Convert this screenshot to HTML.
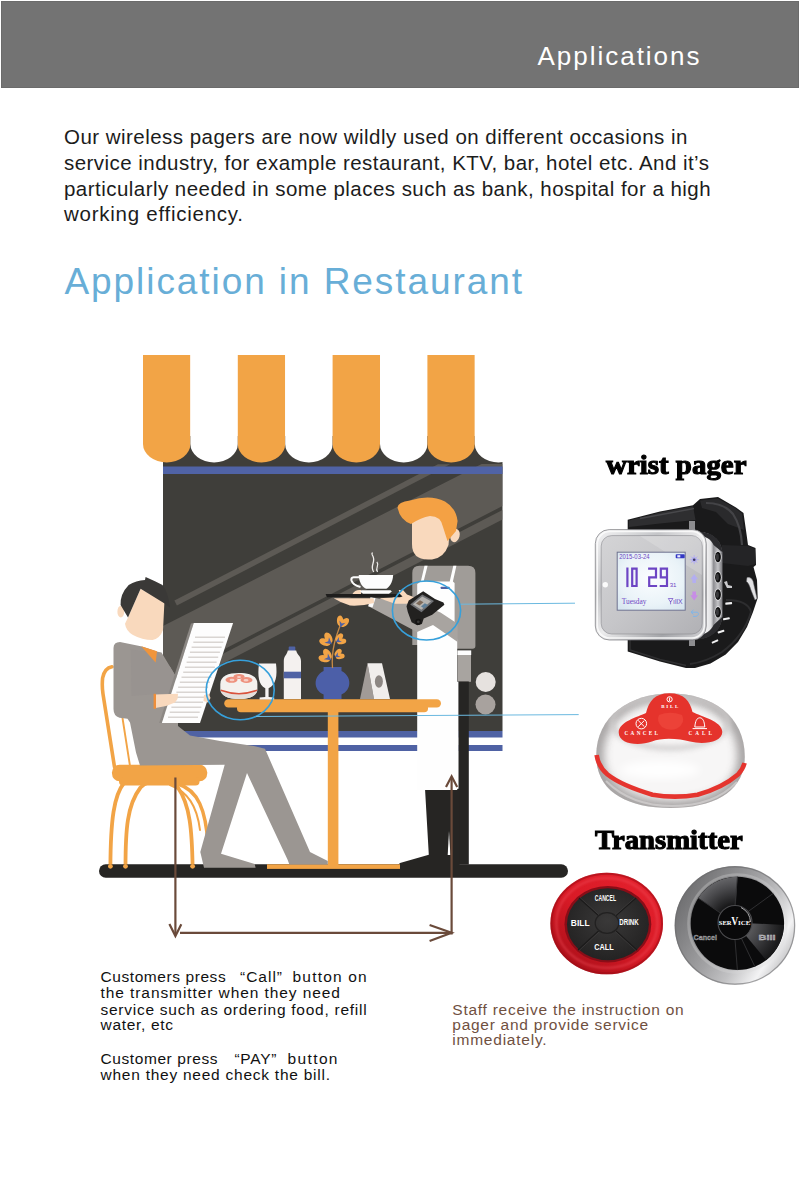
<!DOCTYPE html>
<html><head><meta charset="utf-8">
<style>
html,body{margin:0;padding:0;background:#fff;}
body{width:800px;height:1182px;position:relative;overflow:hidden;font-family:"Liberation Sans",sans-serif;}
.hdr{position:absolute;left:1px;top:1px;width:798px;height:87.4px;background:#737373;box-sizing:border-box;border:1px solid #6b6b6b;}
.t{position:absolute;white-space:nowrap;line-height:1;}
svg#art{position:absolute;left:0;top:0;}
</style></head><body>
<div class="hdr"></div>
<svg id="art" width="800" height="1182" viewBox="0 0 800 1182">
<defs><clipPath id="win"><rect x="163" y="436" width="339.5" height="295"/></clipPath>

<linearGradient id="gCase" x1="0" y1="0" x2="1" y2="1"><stop offset="0" stop-color="#f6f6f7"/><stop offset="0.3" stop-color="#c4c5c8"/><stop offset="0.5" stop-color="#ececed"/><stop offset="0.78" stop-color="#a3a4a8"/><stop offset="1" stop-color="#d5d5d8"/></linearGradient>
<linearGradient id="gFace" x1="0" y1="0" x2="1" y2="1"><stop offset="0" stop-color="#d4d4d6"/><stop offset="0.5" stop-color="#c6c6c9"/><stop offset="1" stop-color="#b1b1b5"/></linearGradient>
<linearGradient id="gSide" x1="0" y1="0" x2="1" y2="0"><stop offset="0" stop-color="#2a2a2d"/><stop offset="0.3" stop-color="#5a5a5f"/><stop offset="0.4" stop-color="#f6f6f7"/><stop offset="0.6" stop-color="#e0e0e2"/><stop offset="0.7" stop-color="#8a8a8e"/><stop offset="1" stop-color="#6a6a6e"/></linearGradient>
<radialGradient id="gLcd" cx="0.5" cy="0.45" r="0.75"><stop offset="0" stop-color="#fbfdff"/><stop offset="0.6" stop-color="#eaf3f8"/><stop offset="1" stop-color="#d3e3ee"/></radialGradient>
<radialGradient id="gDome" cx="0.45" cy="0.35" r="0.7"><stop offset="0" stop-color="#ffffff"/><stop offset="0.6" stop-color="#f3f2f2"/><stop offset="0.85" stop-color="#dddbdb"/><stop offset="1" stop-color="#c9c6c6"/></radialGradient>
<radialGradient id="gRed" cx="0.5" cy="0.5" r="0.5"><stop offset="0.68" stop-color="#9a0f1c"/><stop offset="0.76" stop-color="#e0202f"/><stop offset="0.88" stop-color="#e3283a"/><stop offset="0.95" stop-color="#c81626"/><stop offset="1" stop-color="#a50f1c"/></radialGradient>
<radialGradient id="gBlk" cx="0.5" cy="0.45" r="0.55"><stop offset="0" stop-color="#3a3939"/><stop offset="1" stop-color="#242323"/></radialGradient>
<linearGradient id="gSil" x1="0" y1="0.2" x2="1" y2="0.85"><stop offset="0" stop-color="#8b8b8d"/><stop offset="0.35" stop-color="#a9a9ab"/><stop offset="0.6" stop-color="#cfcfd1"/><stop offset="0.85" stop-color="#f2f2f3"/><stop offset="1" stop-color="#c8c8ca"/></linearGradient>
<linearGradient id="gGloss" x1="0" y1="0" x2="0" y2="1"><stop offset="0" stop-color="#4a4a4c"/><stop offset="1" stop-color="#0c0c0d"/></linearGradient>
<linearGradient id="gBase" x1="0" y1="0" x2="1" y2="0"><stop offset="0" stop-color="#c9c6c6"/><stop offset="0.3" stop-color="#e9e7e7"/><stop offset="0.55" stop-color="#f8f7f7"/><stop offset="0.85" stop-color="#e2e0e0"/><stop offset="1" stop-color="#cfcccc"/></linearGradient>
<linearGradient id="gDomeL" x1="0" y1="0" x2="1" y2="0"><stop offset="0" stop-color="#bdbaba" stop-opacity="0.9"/><stop offset="1" stop-color="#e8e6e6" stop-opacity="0"/></linearGradient>
<linearGradient id="gDomeR" x1="1" y1="0" x2="0" y2="0"><stop offset="0" stop-color="#c9c6c6" stop-opacity="0.8"/><stop offset="1" stop-color="#e8e6e6" stop-opacity="0"/></linearGradient>
<clipPath id="cDome"><path d="M596.2,756 C596,716 630,693.5 670.5,693.5 C712,693.5 745,716 744.8,757 C744.5,791 715,808 670.5,808 C626,808 596.5,791 596.2,756Z"/></clipPath>
<filter id="fB5" x="-20%" y="-20%" width="140%" height="140%"><feGaussianBlur stdDeviation="4.5"/></filter>
<filter id="fB3" x="-20%" y="-20%" width="140%" height="140%"><feGaussianBlur stdDeviation="2.5"/></filter>
<linearGradient id="gRedL" x1="0.85" y1="0.1" x2="0.15" y2="0.95"><stop offset="0" stop-color="#e3202c"/><stop offset="0.5" stop-color="#d81a26"/><stop offset="1" stop-color="#a90f19"/></linearGradient>
<filter id="fB1" x="-10%" y="-10%" width="120%" height="120%"><feGaussianBlur stdDeviation="1.2"/></filter>
<clipPath id="cTx3"><circle cx="737.4" cy="923.4" r="46.7"/></clipPath>
<linearGradient id="gSil2" x1="0.05" y1="0.25" x2="0.95" y2="0.8"><stop offset="0" stop-color="#6f6f71"/><stop offset="0.2" stop-color="#858587"/><stop offset="0.45" stop-color="#a2a2a4"/><stop offset="0.65" stop-color="#c2c2c4"/><stop offset="0.85" stop-color="#f3f3f4"/><stop offset="1" stop-color="#bdbdbf"/></linearGradient>
<radialGradient id="gGloss2" gradientUnits="userSpaceOnUse" cx="735" cy="922.5" r="47"><stop offset="0.35" stop-color="#141415"/><stop offset="0.75" stop-color="#4a4a4d"/><stop offset="1" stop-color="#6a6a6d"/></radialGradient>
<radialGradient id="gGloss3" gradientUnits="userSpaceOnUse" cx="735" cy="922.5" r="47"><stop offset="0.35" stop-color="#5a5a5d"/><stop offset="0.8" stop-color="#2c2c2e"/><stop offset="1" stop-color="#1a1a1b"/></radialGradient>
<linearGradient id="gPanel" x1="0" y1="0" x2="1" y2="0"><stop offset="0" stop-color="#8e8e92"/><stop offset="0.5" stop-color="#c4c4c7"/><stop offset="1" stop-color="#77777b"/></linearGradient>
</defs>
<rect x="163" y="436" width="339.5" height="295" fill="#3f3e3a"/>
<g clip-path="url(#win)" fill="#5d5a55">
<polygon points="174.4,600.6 176.9,605.6 450,464.2 438,464.2"/>
<polygon points="163,626 481.6,464 502.5,464 502.5,506 227.5,647.5 163,680.7"/>
<polygon points="502.5,510 502.5,519.5 163,694.2 163,684.7"/></g>
<rect x="163" y="466.5" width="339.5" height="7.5" fill="#5063a6"/>
<rect x="163" y="731" width="339.5" height="6.5" fill="#4f62a4"/>
<rect x="163" y="745" width="339.5" height="6" fill="#4f62a4"/>
<path d="M143.0,355h47.4v89a23.7,18.5 0 0 1 -47.4,0z" fill="#f2a446"/>
<path d="M190.4,355h47.4v89a23.7,18.5 0 0 1 -47.4,0z" fill="#fff"/>
<path d="M237.8,355h47.4v89a23.7,18.5 0 0 1 -47.4,0z" fill="#f2a446"/>
<path d="M285.2,355h47.4v89a23.7,18.5 0 0 1 -47.4,0z" fill="#fff"/>
<path d="M332.6,355h47.4v89a23.7,18.5 0 0 1 -47.4,0z" fill="#f2a446"/>
<path d="M380.0,355h47.4v89a23.7,18.5 0 0 1 -47.4,0z" fill="#fff"/>
<path d="M427.4,355h47.4v89a23.7,18.5 0 0 1 -47.4,0z" fill="#f2a446"/>
<path d="M474.8,355h47.4v89a23.7,18.5 0 0 1 -47.4,0z" fill="#fff"/>
<circle cx="485.7" cy="682" r="10" fill="#e6e2df"/><circle cx="485.5" cy="704.5" r="10" fill="#a8a29e"/>
<g fill="none" stroke="#f2a446" stroke-linecap="round">
<path d="M112,666.7 Q104.5,668 102.6,678 Q101.8,686 103,694 L114.5,767" stroke-width="3.6"/>
<path d="M122.5,718 L130,766" stroke-width="1.9"/>
<path d="M110.4,867 C110.6,820 114,795 124,783" stroke-width="3.8"/>
<path d="M125.5,867 C125.5,830 127,805 140.5,787.5 C150,778 168,778 177.9,787.5 C190,805 192,830 192.6,867" stroke-width="3.8"/>
<path d="M178,784 C198,790 206,810 208,845" stroke-width="3.5"/>
<path d="M170,785 C188,792 197,806 200,830" stroke-width="2"/>
</g>
<rect x="112" y="764.7" width="95.2" height="16.5" rx="7.5" fill="#f2a446"/><rect x="119" y="777" width="80.5" height="8.5" rx="4" fill="#f2a446"/>
<rect x="99" y="864.3" width="469" height="13.5" rx="6.75" fill="#262523"/>
<path d="M412.3,645 L412.3,573 Q412.3,565.8 419.5,565.8 L468,565.8 Q475.4,565.8 475.4,573 L475.4,646 Q475.4,648.8 472.6,648.8 L455.8,648.8 L455.8,645 Z" fill="#a09c98"/>
<rect x="457.6" y="654.5" width="13.4" height="27.3" fill="#a8a4a0"/><rect x="457.4" y="650.4" width="13.8" height="4.6" fill="#fdfdfd"/>
<rect x="458.2" y="681.5" width="10.6" height="183" fill="#262523"/>
<path d="M425,788.4 L459.5,788.4 L459.5,865 L398,865 L400,863 L428.8,854.7Z" fill="#262523"/>
<path d="M417.2,790 L417.2,584 L420.8,581.4 L424.5,565.8 L427.6,565.8 L423.6,581.4 L449.7,581.4 L453.3,565.8 L456.4,565.8 L452.9,581.4 L454.6,583 L454.6,625 L457.2,640 L457.2,790 Z" fill="#fefefe"/>
<polygon points="449,831 447.7,855 450.4,855" fill="#fefefe"/>
<rect x="456.5" y="681.8" width="1.9" height="107" fill="#fefefe"/>
<rect x="440.5" y="586.7" width="9.2" height="2.2" rx="0.8" fill="#4f62a4"/>
<polygon points="374,597.8 425,606 440.5,612.6 457.6,623.7 457.6,642 449,636 433,625 417,632 368.4,606.3" fill="#a8a4a0"/>
<polygon points="368.2,606.3 370.5,597 375.5,598.2 372.5,607.5" fill="#fdfdfd"/>
<ellipse cx="455" cy="535.5" rx="4.6" ry="6.8" transform="rotate(15 455 535.5)" fill="#f9d9bd"/>
<path d="M412,514 L412,544 Q412,559.5 428,559.5 L432,559.5 Q444,558 448.5,545 L451,514 Z" fill="#f9d9bd"/>
<path d="M397.5,507.5 Q398,502 410,500.5 Q430,494 445,501.5 Q456,508 457.6,521 L456,531 L447.5,541 L443,527 Q441,516 430,516 Q421,517.5 411,524 Q400,520 397.5,507.5Z" fill="#f4a144"/>
<rect x="224.2" y="699.2" width="216.8" height="8.4" rx="4.2" fill="#f2a446"/><rect x="237" y="704" width="191" height="8.3" rx="3.8" fill="#f2a446"/>
<rect x="327.8" y="708" width="10.6" height="158" fill="#f2a446"/>
<rect x="267" y="864.3" width="133" height="4.6" fill="#f2a446"/>
<g fill="#f2a446"><circle cx="110.4" cy="866.3" r="2.4"/><circle cx="125.5" cy="866.3" r="2.4"/><circle cx="192.6" cy="866.3" r="2.4"/></g>
<path d="M259,663.5 L276,663.5 C277.5,676 276,685 268.6,688.3 L268.6,697 L274.2,697.6 L274.2,699.4 L259.6,699.4 L259.6,697.6 L265.3,697 L265.3,688.3 C258.5,685 257.5,676 259,663.5Z" fill="#f6f4f3"/>
<rect x="288.7" y="646.4" width="6.6" height="5" rx="1" fill="#4f62a4"/>
<path d="M287.8,650.6 L296.2,650.6 C297,655 301,656 301,661 L301,699 L283.8,699 L283.8,661 C283.8,656 287,655 287.8,650.6Z" fill="#f4f1ef"/>
<rect x="283.8" y="671.7" width="17.2" height="6.6" fill="#4f62a4"/>
<path d="M323.6,667 L341.5,667 L341.5,671 C352,676 352,690 341.5,694.5 L341.5,699 L323.6,699 L323.6,694.5 C313,690 313,676 323.6,671Z" fill="#4c5fa8"/>
<path d="M332.5,668 C331,650 336,636 341.5,622" fill="none" stroke="#c98a45" stroke-width="1.3"/>
<g transform="translate(340.5,627) rotate(20) scale(0.95)"><ellipse cx="-2.6" cy="-6" rx="3.4" ry="5.6" transform="rotate(-22 -2.6 -6)" fill="#f2a446"/><ellipse cx="2.6" cy="-6" rx="3.4" ry="5.6" transform="rotate(22 2.6 -6)" fill="#f2a446"/><path d="M0,0.5 L-3.4,-6 L0,-4 L3.4,-6Z" fill="#4f62a4"/></g>
<g transform="translate(331.5,644) rotate(-50) scale(1.05)"><ellipse cx="-2.6" cy="-6" rx="3.4" ry="5.6" transform="rotate(-22 -2.6 -6)" fill="#f2a446"/><ellipse cx="2.6" cy="-6" rx="3.4" ry="5.6" transform="rotate(22 2.6 -6)" fill="#f2a446"/><path d="M0,0.5 L-3.4,-6 L0,-4 L3.4,-6Z" fill="#4f62a4"/></g>
<g transform="translate(336,642) rotate(60) scale(0.85)"><ellipse cx="-2.6" cy="-6" rx="3.4" ry="5.6" transform="rotate(-22 -2.6 -6)" fill="#f2a446"/><ellipse cx="2.6" cy="-6" rx="3.4" ry="5.6" transform="rotate(22 2.6 -6)" fill="#f2a446"/><path d="M0,0.5 L-3.4,-6 L0,-4 L3.4,-6Z" fill="#4f62a4"/></g>
<g transform="translate(331,660) rotate(-55) scale(1.05)"><ellipse cx="-2.6" cy="-6" rx="3.4" ry="5.6" transform="rotate(-22 -2.6 -6)" fill="#f2a446"/><ellipse cx="2.6" cy="-6" rx="3.4" ry="5.6" transform="rotate(22 2.6 -6)" fill="#f2a446"/><path d="M0,0.5 L-3.4,-6 L0,-4 L3.4,-6Z" fill="#4f62a4"/></g>
<g transform="translate(335,657) rotate(60) scale(0.8)"><ellipse cx="-2.6" cy="-6" rx="3.4" ry="5.6" transform="rotate(-22 -2.6 -6)" fill="#f2a446"/><ellipse cx="2.6" cy="-6" rx="3.4" ry="5.6" transform="rotate(22 2.6 -6)" fill="#f2a446"/><path d="M0,0.5 L-3.4,-6 L0,-4 L3.4,-6Z" fill="#4f62a4"/></g>
<polygon points="367.5,663.3 360,699 374,699" fill="#a19b97"/><polygon points="367.5,663.3 382,663.3 390,699 374,699" fill="#f1eeec"/><ellipse cx="378.9" cy="681.5" rx="4" ry="6.2" fill="#8d8783"/>
<g fill="#9b9692">
<path d="M113.5,648 Q113.5,642 120,642 L142,646.5 L157.75,651.75 L161.5,652.5 L170.5,667.5 L175,675 L178,700 L178,726 L190,735.6 L220,741 L253.75,746 L265,748.75 L310,851.9 L327.8,861 L327.8,864.5 L289.4,864.5 L287.5,859.4 L247,773 L221,853.75 L254.7,864 L255.6,867.8 L204,867.8 L200.3,851.9 L224.7,764.7 L140,765.5 L136,752.5 L130,722.5 L127.5,718.7 L119.5,717.7 Q113.5,716 113.5,709 Z"/>
<path d="M130.75,649.5 L157.75,652.5 L170.5,667.5 L175,675 L172,693 L131.5,696Z" fill="#989390"/>
</g>
<ellipse cx="120.8" cy="611.7" rx="3.4" ry="5.9" fill="#f9d9bd"/>
<path d="M140.6,588.7 L128,617.5 L125,623.7 Q126,631 133,635 Q142,640 152.5,640 Q160,638.5 163,630 L164.4,602.5 Z" fill="#f9d9bd"/>
<path d="M120.6,605 Q120,594 128.7,585 Q136,580.3 145,580 L145.6,576.9 L155,581.2 L162.5,585 Q168,592 170,607.5 L165,603.7 L140.6,588.7 L128,617.5 Z" fill="#3a3937"/>
<polygon points="141.2,646.2 157,651.2 155.6,662.5" fill="#f0953c"/>
<polygon points="191,623.5 193.75,622.9 161.9,723.1 159.2,723.1" fill="#8c8884"/>
<polygon points="193.75,622.9 233.1,622.9 200,723.1 161.9,723.1" fill="#fdfdfd"/>
<rect x="195.0" y="636.5" width="30" height="1.5" fill="#d9d5d2"/>
<rect x="193.3" y="641.5" width="30" height="1.5" fill="#d9d5d2"/>
<rect x="191.6" y="646.5" width="30" height="1.5" fill="#d9d5d2"/>
<rect x="189.9" y="651.5" width="30" height="1.5" fill="#d9d5d2"/>
<rect x="188.2" y="656.5" width="30" height="1.5" fill="#d9d5d2"/>
<rect x="186.6" y="661.5" width="30" height="1.5" fill="#d9d5d2"/>
<rect x="184.9" y="666.5" width="30" height="1.5" fill="#d9d5d2"/>
<rect x="183.2" y="671.5" width="30" height="1.5" fill="#d9d5d2"/>
<rect x="181.5" y="676.5" width="30" height="1.5" fill="#d9d5d2"/>
<rect x="179.8" y="681.5" width="30" height="1.5" fill="#d9d5d2"/>
<rect x="178.1" y="686.5" width="30" height="1.5" fill="#d9d5d2"/>
<rect x="176.4" y="691.5" width="30" height="1.5" fill="#d9d5d2"/>
<rect x="174.8" y="696.5" width="30" height="1.5" fill="#d9d5d2"/>
<rect x="173.1" y="701.5" width="30" height="1.5" fill="#d9d5d2"/>
<rect x="171.4" y="706.5" width="30" height="1.5" fill="#d9d5d2"/>
<rect x="169.7" y="711.5" width="30" height="1.5" fill="#d9d5d2"/>
<rect x="168.0" y="716.5" width="30" height="1.5" fill="#d9d5d2"/>
<path d="M155.5,694.5 L178,693.8 L177.5,699 L175,702.5 L166,706 L155.5,708Z" fill="#f9d9bd"/><rect x="153.6" y="693.8" width="2.4" height="15" fill="#ee8e3a"/>
<path d="M204,695 L209,694 L210.5,698 L208,702.5 L203.5,701Z" fill="#f9d9bd"/>
<path d="M333.7,598.3 L373.7,598.3 L374,603 Q362,606.3 350,605.6 Q341,603 333.7,598.3Z" fill="#f9d9bd"/>
<path d="M352.5,594 Q355,589.2 361,590 L361,594Z" fill="#f9d9bd"/>
<path d="M379.4,598.3 L395,603.8 L407.5,603.8 L415,597.5 L407,594.5 L403,590 L398.8,590 L399.5,594.5 L392,597.5Z" fill="#f9d9bd"/>
<path d="M325.6,594 L400,594 L402.5,596.5 L400,597.2 L327,597.2 Z" fill="#1f1e1d"/>
<path d="M358.75,575 L393.1,575 C393,583 388.5,587.5 386.25,588.75 L366.25,588.75 C363,587.5 358.8,583 358.75,575Z" fill="#fdfdfd"/>
<path d="M359.5,577.2 L353.6,577.2 Q350.8,577.4 351.5,580.5 Q353,585.3 360.5,587" fill="none" stroke="#fdfdfd" stroke-width="2.1"/>
<polygon points="361.5,590.2 390.5,590.2 391.9,591.4 389,593.8 363,593.8 360,591.4" fill="#fdfdfd"/>
<path d="M373.7,572 C369,565 377,562 372.3,555 Q371.5,553.5 372.5,552.5" fill="none" stroke="#f0eeec" stroke-width="1.3"/>
<path d="M377.5,572 C374.5,567.5 380,566 376.9,561.9" fill="none" stroke="#f0eeec" stroke-width="1.2"/>
<polygon points="406.5,606.2 408.7,600.6 423.2,591.2 435,599.1 443.4,602.5 444.4,604.8 432.2,614.7 423.7,618.4 421.9,624 417.2,625.2 411.6,622.2 407.8,611.9" fill="#222120"/>
<polygon points="410.2,604.4 422.2,594.6 434,601 421.5,612.2" fill="#6f7175"/><polygon points="412.8,604.3 422.3,596.6 431,601.2 421.4,609.8" fill="#b5b3b0"/>
<polygon points="416,603.5 420,600.3 423.5,602.2 419.5,605.6" fill="#7d6a5a"/><polygon points="421,606.5 424.8,603.3 428,605 424,608.3" fill="#5d7f9a"/>
<circle cx="418.3" cy="621.8" r="3.1" fill="#151413"/><circle cx="418.3" cy="621.8" r="1.4" fill="#3a3938"/>
<path d="M220.3,684 C220.3,676 228,673 239,673 C250,673 257.4,676 257.4,684 L257.4,689 C257.4,696 249,699 239,699 C229,699 220.3,696 220.3,689Z" fill="#f4f1ee"/>
<path d="M220.8,690.5 Q239,697.5 257,690.5 C256,696.5 249,699 239,699 C229,699 222,696.5 220.8,690.5Z" fill="#e4dfdb"/>
<path d="M220.8,690.3 Q239,697 257,690.3" fill="none" stroke="#d9533d" stroke-width="1.5"/>
<g fill="#ee907c"><ellipse cx="231.5" cy="679.8" rx="6" ry="3"/><ellipse cx="246.5" cy="680" rx="6" ry="3"/><ellipse cx="239" cy="676.6" rx="5.5" ry="2.5"/></g><g fill="#f7cfc6"><ellipse cx="232" cy="680" rx="2.5" ry="1.2"/><ellipse cx="246" cy="680.2" rx="2.5" ry="1.2"/><ellipse cx="239" cy="677" rx="2" ry="1"/></g>
<g fill="none" stroke="#36a0db" stroke-width="1.6"><ellipse cx="426.5" cy="610.5" rx="34.1" ry="29.5"/><ellipse cx="240.2" cy="690" rx="34" ry="29.8"/></g>
<g fill="none" stroke="#6bb9e0" stroke-width="1"><path d="M460.7,604.2 L575,603.2"/><path d="M256,716.5 L578.7,714.6"/></g>
<g fill="none" stroke="#6a4a3a" stroke-width="2.2" stroke-linejoin="miter"><path d="M175.4,777.5 V935"/><path d="M169.4,924 L175.4,936 L181.3,924.3"/><path d="M180,932.8 H451"/><path d="M429.6,925 L451.6,932.8 L429.6,941"/><path d="M451.6,934.5 V777"/><path d="M446,787 L451.6,776.3 L457.2,787"/></g>
<g id="pager">
<path d="M627.7,529 L627.7,519.8 L660,511.6 L693,505.3 L700,499 L718,497 L736,507.5 L743.5,513 L746.5,534 L748,545 L755.5,548 L756,565 L753.5,567 L757,580 L757.7,598 L753,612 L747,627 L738,642 L725.7,654.5 L710.5,663.6 L695,668 L686,668 L660,661.5 L627.7,651.5 L627.7,636 Z" fill="#1a1a1b"/>
<path d="M629,520.5 L660,512.5 L693,506.3 L695.5,520 L660,523.5 L629,527Z" fill="#2e2e30"/>
<path d="M640,518.5 L694,508.5" fill="none" stroke="#48484b" stroke-width="1.4"/>
<path d="M700,500.5 L718,498.5 L735,508 L742,513.5 L744,530 L728,524 L716,512 L702,508Z" fill="#2a2a2c"/>
<path d="M706,503 Q724,503 733,514 Q741,526 742,545" fill="none" stroke="#444447" stroke-width="2.2"/>
<path d="M722,545 L748,546 L755,549 L755.5,564 L748,566 L722,563Z" fill="#242426"/>
<path d="M726,600 Q748,600 751,612 Q744,636 722,652 Q706,662 690,664" fill="none" stroke="#2d2d2f" stroke-width="2"/>
<path d="M630,640 L630,650 L660,659.5 L686,665.5" fill="none" stroke="#2f2f31" stroke-width="1.5"/>
<rect x="689" y="521" width="6" height="13" fill="#8d8d90"/><rect x="689" y="634" width="6" height="12" fill="#8d8d90"/>
<path d="M694,531.5 C712,531.5 721.5,540 722.3,553 L722.3,616 C721.5,629 712,638 696,639.5 Z" fill="url(#gSide)"/>
<path d="M713.6,545 L722.3,552 L722.3,617 L713.6,625Z" fill="url(#gPanel)"/><path d="M697,531.7 C712,531.3 721,539 722.3,552 L713.6,545 C711,539.5 706,536 697,535.6Z" fill="#2b2b2e"/><path d="M697,639.4 C712,639 721,630 722.3,617 L713.6,625 C711,630.5 706,634.5 697,635.4Z" fill="#2b2b2e"/>
<rect x="595.3" y="529.6" width="111" height="110.4" rx="14" fill="url(#gCase)" stroke="#77777b" stroke-width="0.7"/>
<rect x="597.3" y="531.4" width="107" height="106.6" rx="12.5" fill="none" stroke="#fbfbfb" stroke-width="1.6" opacity="0.9"/>
<rect x="601.2" y="535.6" width="101" height="98.4" rx="10.5" fill="url(#gFace)" stroke="#8a8a8e" stroke-width="0.6"/>
<path d="M640,536 L702,536 L702,575 Z" fill="#ffffff" opacity="0.18"/>
<rect x="617.2" y="552.2" width="68" height="58" fill="url(#gLcd)" stroke="#6f7390" stroke-width="1"/>
<circle cx="605.3" cy="584.7" r="2.7" fill="#fbfbfb"/>
<ellipse cx="718" cy="557" rx="3.6" ry="6.1" fill="#e4e4e6"/><ellipse cx="718" cy="557" rx="2.9" ry="5.3" fill="#101011"/><ellipse cx="717.4" cy="557" rx="1.5" ry="3.4" fill="#39393c"/>
<ellipse cx="718" cy="577.2" rx="3.6" ry="6.1" fill="#e4e4e6"/><ellipse cx="718" cy="577.2" rx="2.9" ry="5.3" fill="#101011"/><ellipse cx="717.4" cy="577.2" rx="1.5" ry="3.4" fill="#39393c"/>
<ellipse cx="718" cy="594.6" rx="3.6" ry="6.1" fill="#e4e4e6"/><ellipse cx="718" cy="594.6" rx="2.9" ry="5.3" fill="#101011"/><ellipse cx="717.4" cy="594.6" rx="1.5" ry="3.4" fill="#39393c"/>
<ellipse cx="718" cy="612.2" rx="3.6" ry="6.1" fill="#e4e4e6"/><ellipse cx="718" cy="612.2" rx="2.9" ry="5.3" fill="#101011"/><ellipse cx="717.4" cy="612.2" rx="1.5" ry="3.4" fill="#39393c"/>
<g fill="#6d45c4">
<text x="619.2" y="559.4" font-size="6.6" font-family="Liberation Sans, sans-serif" textLength="30.3" lengthAdjust="spacingAndGlyphs">2015-03-24</text>
<rect x="675.7" y="554.3" width="9" height="4" rx="0.8" fill="#3438c4"/><rect x="677.3" y="555.2" width="3" height="2.2" fill="#eef"/>
<text x="621.7" y="604.3" font-size="9" font-family="Liberation Serif, serif" textLength="24.8" lengthAdjust="spacingAndGlyphs">Tuesday</text>
<text x="673" y="604.3" font-size="7" font-family="Liberation Sans, sans-serif" textLength="9.5" lengthAdjust="spacingAndGlyphs">ıllX</text><path d="M668.3,598.5 H673 L670.6,602 Z M670.6,601 V604.3" fill="none" stroke="#6d45c4" stroke-width="0.7"/>
</g>
<g fill="none" stroke="#6d45c4" stroke-width="2.2" stroke-linecap="square">
<path d="M627.4,568.6 V586"/>
<path d="M632.2,568.6 H636.6 V586 H632.2 Z"/>
<path d="M649.2,568.6 H656 V577.3 H649.2 V586 H656"/>
<path d="M667,577.3 H660.8 V568.6 H667 V586 H660.8"/>
</g>
<text x="669.7" y="587.2" font-size="5.4" fill="#6d45c4" font-family="Liberation Sans, sans-serif" textLength="6.8" lengthAdjust="spacingAndGlyphs">31</text>
<g stroke="#b3aef0" stroke-width="1"><path d="M694.2,555.2v9M689.7,559.7h9M691,556.5l6.4,6.4M697.4,556.5l-6.4,6.4"/></g><circle cx="694.2" cy="559.7" r="2.6" fill="#b3aef0"/><circle cx="694.2" cy="559.7" r="1.3" fill="#3a3a60"/>
<path d="M694.2,574 L698,579.2 L696,579.2 L696,583 L692.4,583 L692.4,579.2 L690.4,579.2Z" fill="#b3aef0"/><path d="M694.2,600.5 L698,595.3 L696,595.3 L696,591.5 L692.4,591.5 L692.4,595.3 L690.4,595.3Z" fill="#c78de6"/>
<path d="M697.5,612.2 H691 M691,612.2 l2.4,-2.2 M691,612.2 l2.4,2.2 M697.5,612.2 q2.6,2.6 -1.5,4.2 h-3" fill="none" stroke="#7fb5ea" stroke-width="1"/>
<path d="M747,577.5 Q751,576.5 753,581 L757,598.5 L755,600 L751,590 Q749,583 746.5,581.5Z" fill="#e2e2e4" stroke="#6e6e72" stroke-width="0.5"/>
<path d="M724,582 l3,-1 l1,4 l4,1 l0,2 l-5,0Z" fill="#c9c9cc"/>
<rect x="725.3000000000001" y="602.35" width="6.8" height="2.1" rx="0.6" fill="#f1f1f2" transform="rotate(-5 728.7 603.4)"/>
<rect x="723.0" y="617.6500000000001" width="6.8" height="2.1" rx="0.6" fill="#f1f1f2" transform="rotate(-10 726.4 618.7)"/>
<rect x="717.6" y="630.5500000000001" width="6.8" height="2.1" rx="0.6" fill="#f1f1f2" transform="rotate(-18 721 631.6)"/>
<rect x="711.6" y="640.45" width="6.8" height="2.1" rx="0.6" fill="#f1f1f2" transform="rotate(-24 715 641.5)"/>
</g>
<g id="tx1">
<path d="M596.2,756 C596,716 630,693.5 670.5,693.5 C712,693.5 745,716 744.8,757 C744.5,791 715,808 670.5,808 C626,808 596.5,791 596.2,756Z" fill="#f7f6f6"/>
<g clip-path="url(#cDome)">
<path d="M596.6,755 C598,764 601,769 607.5,774.5 C617,782 630,788 652.5,794.7 Q675,798.5 697.5,794.7 C715,790 728,783 738,774.5 Q743,769 744.6,763 L750,812 L590,812Z" fill="url(#gBase)"/>
<path d="M596.2,756 C596,716 630,693.5 670.5,693.5 C712,693.5 745,716 744.8,757 C744.5,791 715,808 670.5,808 C626,808 596.5,791 596.2,756Z" fill="none" stroke="#9f9b9b" stroke-width="15" filter="url(#fB5)" opacity="0.9"/>
<ellipse cx="670" cy="722" rx="58" ry="26" fill="none" stroke="#cfcccc" stroke-width="6" filter="url(#fB3)" opacity="0.8"/>
<ellipse cx="660" cy="770" rx="40" ry="9" fill="#ffffff" filter="url(#fB5)" opacity="0.9"/>
</g>
<path d="M596.6,755 C598,764 601,769 607.5,774.5 C617,782 630,788 652.5,794.7 Q675,798.5 697.5,794.7 C715,790 728,783 738,774.5 Q743,769 744.6,763" fill="none" stroke="#e5342e" stroke-width="4.6"/>
<path d="M606,781 C625,800 650,806 672,806 C700,806 722,798 737,782" fill="none" stroke="#d6d3d3" stroke-width="2" opacity="0.7"/>
<path d="M646,713 C649,701 655,693.3 669.5,693.3 C684,693.3 690,701 692.5,712 C701,716.5 722.3,721 722.3,732 C722.3,742 704,745 690,741.5 C680,738.5 662,737 652,741.5 C638,746.5 618.7,744 618.7,732.5 C618.7,721.5 638,717 646,713Z" fill="#e5332c"/>
<path d="M659,715 Q670,710.5 682,715 Q686,723 677,728.5 Q669,731.5 662,727 Q656,721 659,715Z" fill="#ec4238"/>
<g fill="#fff" font-family="Liberation Serif, serif" font-weight="bold">
<text x="661.3" y="708.3" font-size="5" textLength="17" lengthAdjust="spacing">BILL</text><text x="624.5" y="734.8" font-size="5.2" textLength="33.5" lengthAdjust="spacing">CANCEL</text><text x="688.5" y="734.8" font-size="5.2" textLength="23.5" lengthAdjust="spacing">CALL</text></g>
<g fill="none" stroke="#fff" stroke-width="1"><circle cx="641.3" cy="723.6" r="5.3"/><path d="M638.2,720.5 l6.2,6.2 M644.4,720.5 l-6.2,6.2"/><path d="M694.8,727 C695.4,721 696.6,718 699.8,717.8 C703,718 704.2,721 704.8,727 Z"/><path d="M692.6,728.6 H707"/><circle cx="669.6" cy="699.3" r="2.6"/><path d="M669.6,697.6 v3.4"/></g>
</g>
<g id="tx2">
<ellipse cx="606.7" cy="923.5" rx="56.3" ry="50.8" fill="url(#gRedL)"/>
<ellipse cx="606.7" cy="923.5" rx="55.3" ry="49.8" fill="none" stroke="#9c0c16" stroke-width="2" opacity="0.55"/>
<ellipse cx="606.9" cy="923" rx="50.5" ry="44.8" fill="none" stroke="#f2505c" stroke-width="2.2" opacity="0.45" filter="url(#fB1)"/>
<ellipse cx="607.9" cy="924.2" rx="43.4" ry="38.3" fill="#8a0d17"/>
<ellipse cx="607.9" cy="924.2" rx="41" ry="36" fill="url(#gBlk)"/>
<g stroke="#1c1b1b" stroke-width="1.3" fill="none"><path d="M579,898 L598.5,915.5 M636,898 L616,915.5 M578,950 L598.5,931 M637,950 L616,931"/><ellipse cx="607" cy="923" rx="11.8" ry="10.4" stroke="#222121"/></g>
<g stroke="#4a4848" stroke-width="0.6" fill="none" opacity="0.8"><path d="M580,897.5 L599,914.8 M635,897.5 L615.4,915 M579,950.6 L599,932 M636,950.6 L615.4,931.6"/></g>
<g fill="#fff" font-family="Liberation Sans, sans-serif" font-weight="bold" text-anchor="middle">
<text x="605.4" y="901.1" font-size="8.6" textLength="21.3" lengthAdjust="spacingAndGlyphs">CANCEL</text>
<text x="580.2" y="925.5" font-size="9.3" textLength="18.7" lengthAdjust="spacingAndGlyphs">BILL</text>
<text x="629" y="925.2" font-size="8.8" textLength="19.5" lengthAdjust="spacingAndGlyphs">DRINK</text>
<text x="604" y="950" font-size="9" textLength="19.5" lengthAdjust="spacingAndGlyphs">CALL</text></g>
</g>
<g id="tx3">
<ellipse cx="735" cy="925.5" rx="60.4" ry="59.4" fill="url(#gSil2)"/>
<ellipse cx="735" cy="925.5" rx="59.6" ry="58.6" fill="none" stroke="#6c6c6e" stroke-width="1.2" opacity="0.6"/>
<circle cx="737.4" cy="923.4" r="48.900000000000006" fill="none" stroke="#d9d9db" stroke-width="2.6" opacity="0.3"/>
<circle cx="737.4" cy="923.4" r="46.7" fill="#0b0b0c"/>
<g clip-path="url(#cTx3)">
<path d="M735,922.5 L698.2,898.0 A46.7,46.7 0 0 1 737.4,876.7 Z" fill="url(#gGloss2)" opacity="1"/>
<path d="M735,922.5 L784.1,925.0 A46.7,46.7 0 0 1 766.2,960.2 Z" fill="url(#gGloss3)" opacity="1"/>
</g>
<g stroke="#333335" stroke-width="0.9" fill="none">
<path d="M720.7,913.2 L698.2,898.0"/>
<path d="M735.0,905.5 L737.4,876.7"/>
<path d="M748.0,911.6 L773.2,893.4"/>
<path d="M735.0,939.5 L737.4,970.1"/>
<path d="M741.4,938.3 L754.9,966.7"/>
</g>
<circle cx="735" cy="922.5" r="17" fill="#09090a" stroke="#4c4c4f" stroke-width="1.1"/>
<path d="M741,907.5 Q750,912 750.5,922" fill="none" stroke="#d0d0d2" stroke-width="1" opacity="0.8"/>
<g fill="#fff" font-family="Liberation Serif, serif" font-weight="bold"><text x="718.8" y="925" font-size="6.9" textLength="12.8" lengthAdjust="spacingAndGlyphs">SER</text><text x="731.2" y="925.3" font-size="13.5" textLength="7" lengthAdjust="spacingAndGlyphs">V</text><text x="738" y="925" font-size="6.9" textLength="12.4" lengthAdjust="spacingAndGlyphs">ICE</text></g>
<g font-family="Liberation Sans, sans-serif" font-weight="bold" fill="#77777a" stroke="#a9a9ac" stroke-width="0.35"><text x="693.5" y="939.6" font-size="7.6" textLength="23.5" lengthAdjust="spacingAndGlyphs">Cancel</text><text x="758.5" y="939.6" font-size="7.6" textLength="17" lengthAdjust="spacingAndGlyphs" fill="#8b8b8e" stroke="#c5c5c8">Bill</text></g>
</g>
</svg>
<div class="t" style="left:537.5px;top:43.0px;font-size:26px;color:#fff;font-family:'Liberation Sans', sans-serif;font-weight:normal;letter-spacing:1.982px">Applications</div>
<div class="t" style="left:64.0px;top:127.1px;font-size:20.5px;color:#1c1c1c;font-family:'Liberation Sans', sans-serif;font-weight:normal;letter-spacing:0.471px">Our wireless pagers are now wildly used on different occasions in</div>
<div class="t" style="left:64.0px;top:152.9px;font-size:20.5px;color:#1c1c1c;font-family:'Liberation Sans', sans-serif;font-weight:normal;letter-spacing:0.462px">service industry, for example restaurant, KTV, bar, hotel etc. And it’s</div>
<div class="t" style="left:64.0px;top:178.6px;font-size:20.5px;color:#1c1c1c;font-family:'Liberation Sans', sans-serif;font-weight:normal;letter-spacing:0.466px">particularly needed in some places such as bank, hospital for a high</div>
<div class="t" style="left:64.0px;top:204.4px;font-size:20.5px;color:#1c1c1c;font-family:'Liberation Sans', sans-serif;font-weight:normal;letter-spacing:0.745px">working efficiency.</div>
<div class="t" style="left:64.5px;top:263.2px;font-size:37px;color:#68aed7;font-family:'Liberation Sans', sans-serif;font-weight:normal;letter-spacing:1.923px">Application in Restaurant</div>
<div class="t" style="left:100.5px;top:968.6px;font-size:15.5px;color:#111;font-family:'Liberation Sans', sans-serif;font-weight:normal;letter-spacing:0.575px">Customers press</div>
<div class="t" style="left:240.0px;top:968.6px;font-size:15.5px;color:#111;font-family:'Liberation Sans', sans-serif;font-weight:normal;letter-spacing:0.994px">“Call”</div>
<div class="t" style="left:292.5px;top:968.6px;font-size:15.5px;color:#111;font-family:'Liberation Sans', sans-serif;font-weight:normal;letter-spacing:1.193px">button on</div>
<div class="t" style="left:100.5px;top:985.2px;font-size:15.5px;color:#111;font-family:'Liberation Sans', sans-serif;font-weight:normal;letter-spacing:0.920px">the transmitter when they need</div>
<div class="t" style="left:100.5px;top:1001.5px;font-size:15.5px;color:#111;font-family:'Liberation Sans', sans-serif;font-weight:normal;letter-spacing:0.741px">service such as ordering food, refill</div>
<div class="t" style="left:100.5px;top:1017.4px;font-size:15.5px;color:#111;font-family:'Liberation Sans', sans-serif;font-weight:normal;letter-spacing:0.684px">water, etc</div>
<div class="t" style="left:100.5px;top:1050.9px;font-size:15.5px;color:#111;font-family:'Liberation Sans', sans-serif;font-weight:normal;letter-spacing:0.584px">Customer press</div>
<div class="t" style="left:234.4px;top:1050.9px;font-size:15.5px;color:#111;font-family:'Liberation Sans', sans-serif;font-weight:normal;letter-spacing:0.738px">“PAY”</div>
<div class="t" style="left:287.6px;top:1050.9px;font-size:15.5px;color:#111;font-family:'Liberation Sans', sans-serif;font-weight:normal;letter-spacing:1.358px">button</div>
<div class="t" style="left:100.5px;top:1066.9px;font-size:15.5px;color:#111;font-family:'Liberation Sans', sans-serif;font-weight:normal;letter-spacing:0.753px">when they need check the bill.</div>
<div class="t" style="left:452.3px;top:1001.9px;font-size:15.5px;color:#70503f;font-family:'Liberation Sans', sans-serif;font-weight:normal;letter-spacing:0.747px">Staff receive the instruction on</div>
<div class="t" style="left:452.3px;top:1017.4px;font-size:15.5px;color:#70503f;font-family:'Liberation Sans', sans-serif;font-weight:normal;letter-spacing:0.723px">pager and provide service</div>
<div class="t" style="left:452.3px;top:1031.9px;font-size:15.5px;color:#70503f;font-family:'Liberation Sans', sans-serif;font-weight:normal;letter-spacing:0.767px">immediately.</div>
<div class="t" style="left:605.7px;top:451.9px;font-size:27px;color:#000;font-family:'Liberation Serif', serif;font-weight:bold;letter-spacing:0.000px;-webkit-text-stroke:1.1px #000;transform:scaleX(1.0707);transform-origin:0 0">wrist pager</div>
<div class="t" style="left:595.3px;top:827.2px;font-size:27px;color:#000;font-family:'Liberation Serif', serif;font-weight:bold;letter-spacing:0.000px;-webkit-text-stroke:1.1px #000;transform:scaleX(1.0628);transform-origin:0 0">Transmitter</div>
</body></html>
